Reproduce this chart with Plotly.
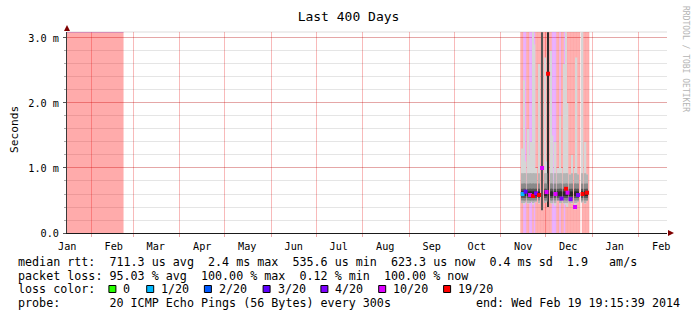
import plotly.graph_objects as go
from datetime import datetime

# ---------------- data ----------------
RANGE_START = "2013-01-15 19:15:39"
RANGE_END = "2014-02-19 19:15:39"
Y_TOP_MS = 3.092

grid_month_starts = ["2013-02-01", "2013-03-01", "2013-04-01", "2013-05-01", "2013-06-01",
                     "2013-07-01", "2013-08-01", "2013-09-01", "2013-10-01", "2013-11-01",
                     "2013-12-01", "2014-01-01", "2014-02-01"]
month_label_dates = ["2013-01-16", "2013-02-16", "2013-03-16", "2013-04-16", "2013-05-16",
                     "2013-06-16", "2013-07-16", "2013-08-16", "2013-09-16", "2013-10-16",
                     "2013-11-16", "2013-12-16", "2014-01-16", "2014-02-16"]
month_labels = ["Jan", "Feb", "Mar", "Apr", "May", "Jun", "Jul", "Aug", "Sep", "Oct",
                "Nov", "Dec", "Jan", "Feb"]

y_tick_ms = [0, 1, 2, 3]
y_tick_text = ["0.0", "1.0 m", "2.0 m", "3.0 m"]

# period with no replies at all (100 % loss)
outage_start = "2013-01-15 19:15:39"
outage_end = "2013-02-22 12:00:00"

# daily columns Nov 14 .. Dec 29 2013
col_dates = ["2013-11-%02d" % d for d in range(14, 31)] + ["2013-12-%02d" % d for d in range(1, 30)]
col_loss_bg = ["19/20", "19/20", "10/20", "10/20", "19/20", "19/20", "10/20", "10/20", "19/20", "10/20",
               "19/20", "19/20", "19/20", "19/20", "19/20", "19/20", "19/20", "19/20", "19/20", "19/20",
               "19/20", "10/20", "10/20", "10/20", "19/20", "19/20", "10/20", "19/20", "19/20", "10/20",
               "19/20", "19/20", "19/20", "19/20", "19/20", "19/20", "19/20", "19/20", "19/20", "19/20",
               "", "19/20", "19/20", "19/20", "19/20", "19/20"]
# smoke extent per column (ms); 0 = no replies that day
smoke_lo_ms = [0, 0.46, 0.44, 0.47, 0, 0.45, 0.46, 0.48, 0.44, 0.47,
               0.48, 0, 0.45, 0, 0.35, 0, 0.46, 0.48, 0.40, 0,
               0.46, 0.45, 0, 0.42, 0, 0.50, 0.44, 0.46, 0, 0.45,
               0.43, 0.40, 0, 0.46, 0.45, 0, 0.36, 0.44, 0.48, 0,
               0, 0.47, 0, 0.45, 0.50, 0]
smoke_hi_ms = [0, 1.3, 2.35, 1.1, 0, 1.6, 1.2, 1.4, 3.09, 2.9,
               1.0, 0, 2.6, 0, 3.09, 0, 2.7, 1.1, 3.09, 0,
               2.8, 1.5, 0, 1.4, 0, 1.0, 1.8, 1.0, 0, 2.6,
               3.09, 2.0, 0, 0.9, 1.2, 0, 1.0, 2.7, 0.9, 0,
               0, 3.09, 0, 1.4, 0.9, 0]
smoke_kind = ["n"] * 14 + ["d"] + ["n"] * 3 + ["b"] + ["n"] * 27

median_dates = ["2013-11-15", "2013-11-17", "2013-11-20", "2013-11-22", "2013-11-24", "2013-11-26",
                "2013-11-28", "2013-12-01", "2013-12-02", "2013-12-07", "2013-12-11", "2013-12-14",
                "2013-12-15", "2013-12-17", "2013-12-20", "2013-12-22", "2013-12-25", "2013-12-28"]
median_ms = [0.60, 0.635, 0.585, 0.57, 0.61, 0.585, 1.0, 0.63, 2.45, 0.60, 0.53, 0.68,
             0.62, 0.52, 0.40, 0.585, 0.60, 0.62]
median_loss = ["1/20", "3/20", "10/20", "19/20", "4/20", "19/20", "10/20", "10/20", "19/20", "10/20",
               "4/20", "19/20", "10/20", "4/20", "10/20", "4/20", "19/20", "19/20"]

loss_labels = ["0", "1/20", "2/20", "3/20", "4/20", "10/20", "19/20"]
loss_colors = ["#26ff00", "#00b8ff", "#0059ff", "#5e00ff", "#7e00ff", "#dd00ff", "#ff0000"]

legend_lines = [
    "median rtt:  711.3 us avg  2.4 ms max  535.6 us min  623.3 us now  0.4 ms sd  1.9   am/s",
    "packet loss: 95.03 % avg  100.00 % max  0.12 % min  100.00 % now",
    "loss color:",
    "probe:       20 ICMP Echo Pings (56 Bytes) every 300s",
]
end_text = "end: Wed Feb 19 19:15:39 2014"
title_text = "Last 400 Days"
y_title = "Seconds"
watermark = "RRDTOOL / TOBI OETIKER"

# ---------------- styles ----------------
FONT = "DejaVu Sans Mono"
BG_FILL = {"19/20": "rgba(255,0,0,0.33)", "10/20": "rgba(200,40,255,0.38)"}
MAJOR_GRID = "rgba(230,0,0,0.27)"
MINOR_GRID = "rgba(0,0,0,0.10)"
DAY_MS = 86400000

PL, PR, PT, PB = 67, 667, 32, 233
W, H = 697, 321


def px(xp):
    return (xp - PL) / (PR - PL)


def py(yp):
    return (PB - yp) / (PB - PT)


def s(v_ms):
    return v_ms / 1000.0


color_of = dict(zip(loss_labels, loss_colors))
fig = go.Figure()

# 100% loss background
t0 = datetime.fromisoformat(outage_start)
t1 = datetime.fromisoformat(outage_end)
fig.add_trace(go.Bar(x=[t0 + (t1 - t0) / 2], y=[s(Y_TOP_MS)], base=[0],
                     width=[(t1 - t0).total_seconds() * 1000],
                     marker=dict(color=BG_FILL["19/20"], line=dict(width=0)), hoverinfo="skip"))
fig.add_trace(go.Scatter(x=[t0, t1], y=[s(Y_TOP_MS), s(Y_TOP_MS)], mode="lines",
                         line=dict(color="rgba(150,90,235,0.55)", width=1.2), hoverinfo="skip"))

# loss backgrounds for daily columns
col_x = [d + " 12:00" for d in col_dates]
bx = [x for x, b in zip(col_x, col_loss_bg) if b]
bc = [BG_FILL[b] for b in col_loss_bg if b]
fig.add_trace(go.Bar(x=bx, y=[s(Y_TOP_MS)] * len(bx), base=[0] * len(bx), width=DAY_MS,
                     marker=dict(color=bc, line=dict(width=0)), hoverinfo="skip"))

# smoke bands (light outer, darker towards the median)
bands = [  # (bottom clamp, top clamp, colour)
    (0.0, 99.0, "#d6d6d6"),
    (0.46, 0.92, "#b4b4b4"),
    (0.50, 0.76, "#8a8a8a"),
    (0.54, 0.68, "#555555"),
    (0.57, 0.64, "#2a2a2a"),
]
special = {"d": "#575757", "b": "#2e2e2e"}
for bi, (blo, bhi, bcol) in enumerate(bands):
    xs, bases, hs, cs = [], [], [], []
    for x, lo, hi, k in zip(col_x, smoke_lo_ms, smoke_hi_ms, smoke_kind):
        if hi <= 0:
            continue
        if k != "n":
            if bi == 0:
                xs.append(x); bases.append(s(lo)); hs.append(s(hi - lo)); cs.append(special[k])
            continue
        b = max(lo, blo)
        t = min(hi, bhi)
        if t > b:
            xs.append(x); bases.append(s(b)); hs.append(s(t - b)); cs.append(bcol)
    fig.add_trace(go.Bar(x=xs, y=hs, base=bases, width=DAY_MS,
                         marker=dict(color=cs, line=dict(width=0)), hoverinfo="skip"))

# median marks coloured by loss
fig.add_trace(go.Scatter(x=[d + " 12:00" for d in median_dates], y=[s(v) for v in median_ms],
                         mode="markers",
                         marker=dict(symbol="square", size=4, color=[color_of[l] for l in median_loss],
                                     line=dict(width=0)), hoverinfo="skip"))

# ---------------- layout ----------------
shapes = []
shapes.append(dict(type="line", xref="paper", yref="paper", x0=0, x1=1, y0=1, y1=1,
                   line=dict(color="#dddddd", width=1), layer="below"))
shapes.append(dict(type="path", xref="paper", yref="paper", xsizemode="pixel", ysizemode="pixel",
                   xanchor=1, yanchor=0, path="M 1,-3 L 7,0 L 1,3 Z",
                   fillcolor="#7f0000", line=dict(width=0)))
shapes.append(dict(type="path", xref="paper", yref="paper", xsizemode="pixel", ysizemode="pixel",
                   xanchor=0, yanchor=1, path="M -3,1 L 0,7 L 3,1 Z",
                   fillcolor="#7f0000", line=dict(width=0)))

annotations = []
LEG_SIZE = 11.7
row_y = [262, 275.7, 289.4, 303.1]
for txt, ry in zip(legend_lines, row_y):
    annotations.append(dict(text=txt.replace(" ", "\u00a0"), x=px(16), y=py(ry), xref="paper", yref="paper",
                            xanchor="left", yanchor="middle", showarrow=False,
                            font=dict(family=FONT, size=LEG_SIZE, color="black")))
annotations.append(dict(text=end_text.replace(" ", "\u00a0"), x=px(682), y=py(row_y[3]), xref="paper",
                        yref="paper", xanchor="right", yanchor="middle", showarrow=False,
                        font=dict(family=FONT, size=LEG_SIZE, color="black")))
box_left = [108.9, 146.7, 204.4, 263.1, 320.9, 378.7, 443.6]
for lab, col, bxl in zip(loss_labels, loss_colors, box_left):
    shapes.append(dict(type="rect", xref="paper", yref="paper",
                       x0=px(bxl), x1=px(bxl + 7), y0=py(292.5), y1=py(285.5),
                       fillcolor=col, line=dict(color="black", width=1)))
    annotations.append(dict(text=lab, x=px(bxl + 12.5), y=py(row_y[2]), xref="paper", yref="paper",
                            xanchor="left", yanchor="middle", showarrow=False,
                            font=dict(family=FONT, size=LEG_SIZE, color="black")))
annotations.append(dict(text=y_title, x=px(14), y=py(130), xref="paper", yref="paper",
                        textangle=-90, showarrow=False, xanchor="center", yanchor="middle",
                        font=dict(family=FONT, size=11.2, color="black")))
annotations.append(dict(text=watermark, x=px(686), y=py(59), xref="paper", yref="paper",
                        textangle=90, showarrow=False, xanchor="center", yanchor="middle",
                        font=dict(family=FONT, size=8, color="#b4b4b4")))

fig.update_layout(
    width=W, height=H,
    margin=dict(l=PL, r=W - PR, t=PT, b=H - PB, pad=0),
    paper_bgcolor="white", plot_bgcolor="white",
    showlegend=False, barmode="overlay",
    title=dict(text=title_text, x=0.5, xref="container", y=1 - 16 / H, yref="container",
               xanchor="center", yanchor="middle", font=dict(family=FONT, size=13, color="black")),
    xaxis=dict(type="date", range=[RANGE_START, RANGE_END], tickmode="array",
               tickvals=month_label_dates, ticktext=month_labels, ticks="", showgrid=False,
               zeroline=False, showline=True, linecolor="#1a1a1a", linewidth=1,
               tickfont=dict(family=FONT, size=10.2, color="black"), ticklabelstandoff=4,
               minor=dict(tickmode="array", tickvals=grid_month_starts, showgrid=True,
                          gridcolor=MAJOR_GRID, gridwidth=1, ticks="outside", ticklen=3,
                          tickcolor="rgba(200,0,0,0.35)")),
    yaxis=dict(range=[0, s(Y_TOP_MS)], tickmode="array", tickvals=[s(v) for v in y_tick_ms],
               ticktext=y_tick_text, showgrid=True, gridcolor=MAJOR_GRID, gridwidth=1,
               zeroline=False, showline=True, linecolor="#3a3a3a", linewidth=1,
               ticks="outside", ticklen=3, tickcolor="#555",
               tickfont=dict(family=FONT, size=10.2, color="black"), ticklabelstandoff=2,
               minor=dict(dtick=s(0.2), tick0=0, showgrid=True, gridcolor=MINOR_GRID,
                          ticks="outside", ticklen=2, tickcolor="#aaa")),
    shapes=shapes, annotations=annotations,
)

fig.write_html("out.html")
